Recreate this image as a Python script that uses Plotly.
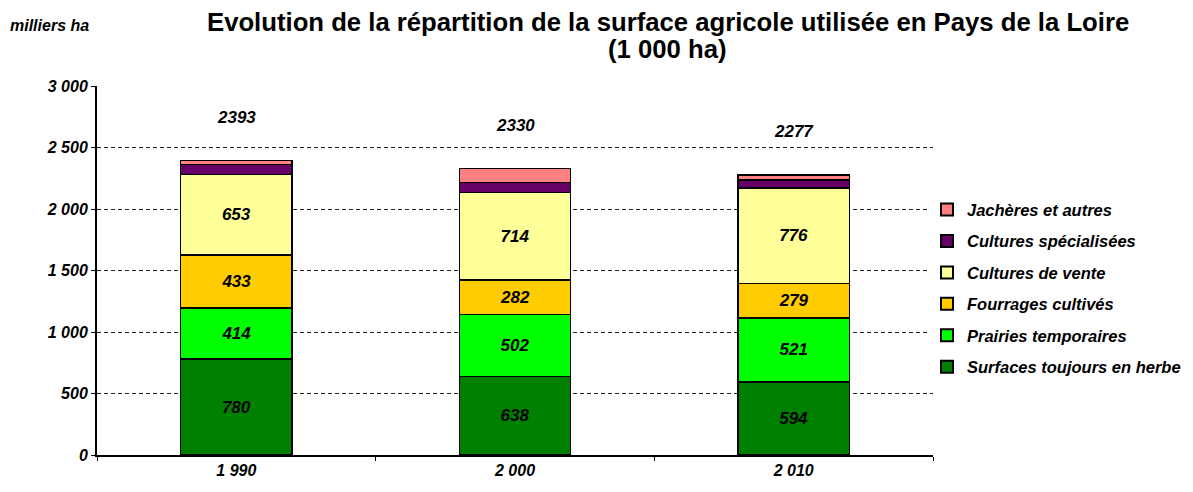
import plotly.graph_objects as go

years = ["1 990", "2 000", "2 010"]
surfaces_herbe = [780, 638, 594]
prairies_temp = [414, 502, 521]
fourrages = [433, 282, 279]
cultures_vente = [653, 714, 776]
cultures_spec = [80, 80, 67]
jacheres = [33, 114, 40]
totals = [2393, 2330, 2277]
title_lines = ["Evolution de la répartition de la surface agricole utilisée en Pays de la Loire", "(1 000 ha)"]

series = [
    ("Surfaces toujours en herbe", surfaces_herbe, "#008000", True),
    ("Prairies temporaires", prairies_temp, "#00FF00", True),
    ("Fourrages cultivés", fourrages, "#FFCC00", True),
    ("Cultures de vente", cultures_vente, "#FFFF99", True),
    ("Cultures spécialisées", cultures_spec, "#660066", False),
    ("Jachères et autres", jacheres, "#FF8080", False),
]

FONT = "Liberation Sans, Arial, sans-serif"
def bi(s):
    return "<b><i>" + str(s) + "</i></b>"

fig = go.Figure()
n = len(series)
for i, (name, vals, color, show) in enumerate(series):
    fig.add_trace(go.Bar(
        x=years, y=vals, name=bi(name), legendgroup=str(i), legendrank=n - i,
        marker=dict(color=color, line=dict(color="black", width=1.3)),
        text=[bi(v) for v in vals] if show else None,
        texttemplate="%{text}" if show else None,
        textposition="inside" if show else "none",
        insidetextanchor="middle",
        textangle=0,
        textfont=dict(family=FONT, size=17, color="black"),
        hoverinfo="skip",
    ))

for yr, t in zip(years, totals):
    fig.add_annotation(x=yr, y=t, text=bi(t), showarrow=False, yshift=43,
                       font=dict(family=FONT, size=17, color="black"))

fig.add_annotation(xref="paper", yref="paper", x=-0.106, y=1.165, xanchor="left", yanchor="middle",
                   text=bi("milliers ha"), showarrow=False,
                   font=dict(family=FONT, size=16, color="black"))

for line, ypos in zip(title_lines, [1.173, 1.100]):
    fig.add_annotation(xref="paper", yref="paper", x=0.683, y=ypos, xanchor="center", yanchor="middle",
                       text="<b>" + line + "</b>", showarrow=False,
                       font=dict(family=FONT, size=25.7, color="black"))

tickvals = [0, 500, 1000, 1500, 2000, 2500, 3000]
ticktext = [bi(t) for t in ["0", "500", "1 000", "1 500", "2 000", "2 500", "3 000"]]

fig.update_layout(
    width=1185, height=484,
    barmode="stack", bargap=0.6,
    plot_bgcolor="white", paper_bgcolor="white",
    margin=dict(l=89, r=260, t=78, b=37, autoexpand=False),
    showlegend=True,
    legend=dict(x=0.9928, y=0.712, xanchor="left", yanchor="top", traceorder="grouped",
                tracegroupgap=7, itemsizing="constant", itemwidth=30,
                font=dict(family=FONT, size=16.5, color="black")),
    xaxis=dict(showline=True, linecolor="black", linewidth=2, ticks="outside", tickcolor="black",
               tickson="boundaries", ticklen=4, mirror=False,
               tickfont=dict(family=FONT, size=16, color="black"),
               tickvals=years, ticktext=[bi(y) for y in years]),
    yaxis=dict(range=[0, 3000], tickvals=tickvals, ticktext=ticktext, showline=True, linecolor="black",
               linewidth=2, ticks="outside", tickcolor="black", ticklen=4,
               showgrid=True, gridcolor="#222222", griddash="4px,3px", gridwidth=1,
               zeroline=False,
               tickfont=dict(family=FONT, size=16, color="black")),
)

fig.write_html("out.html")
